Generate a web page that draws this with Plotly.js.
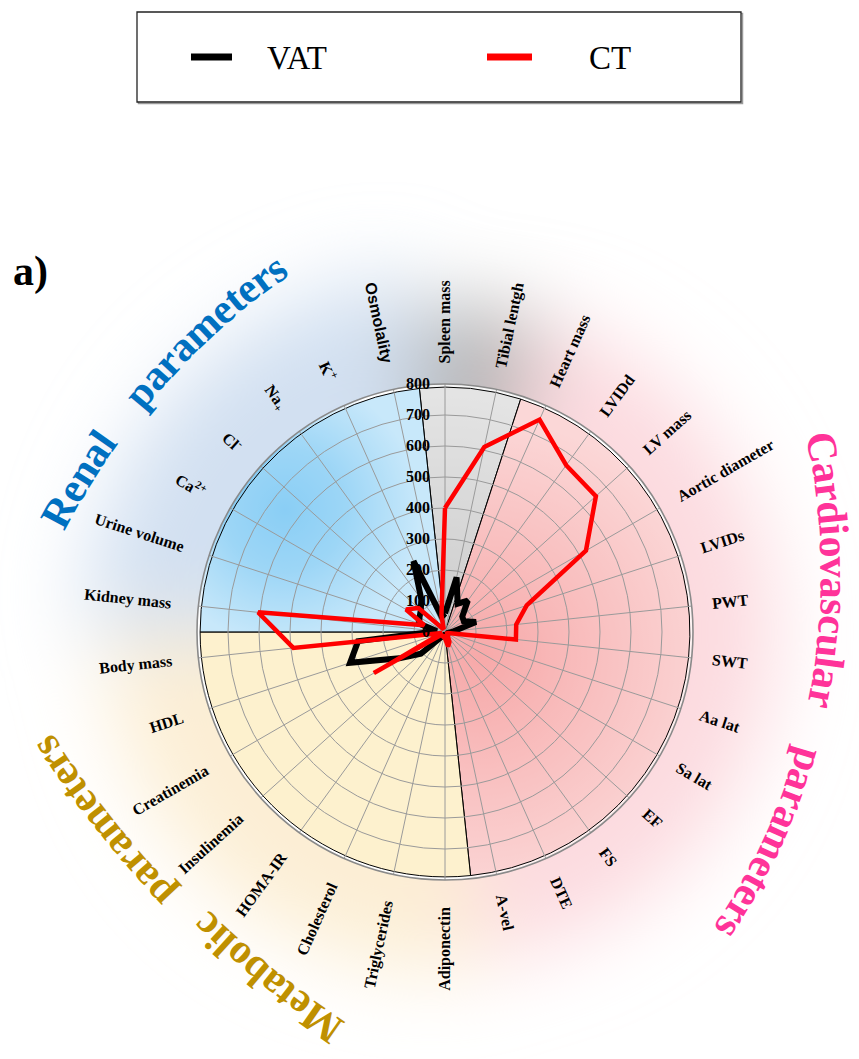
<!DOCTYPE html>
<html>
<head>
<meta charset="utf-8">
<script src="https://cdn.plot.ly/plotly-3.0.1.min.js"></script>
<style>
  html, body { margin: 0; padding: 0; background: #fff; }
  #wrap { position: relative; width: 859px; height: 1059px; overflow: hidden; }
  #glow { position: absolute; left: 0; top: 0; }
  #chart { position: absolute; left: 0; top: 0; width: 859px; height: 1059px; }
</style>
</head>
<body>
<div id="wrap">
  <svg id="glow" width="859" height="1059" xmlns="http://www.w3.org/2000/svg"></svg>
  <div id="chart"></div>
</div>
<script>
// ---- data -------------------------------------------------------------
const categories = [
  'Spleen mass', 'Tibial lentgh', 'Heart mass', 'LVIDd', 'LV mass', 'Aortic diameter',
  'LVIDs', 'PWT', 'SWT', 'Aa lat', 'Sa lat', 'EF', 'FS', 'DTE', 'A-vel',
  'Adiponectin', 'Triglycerides', 'Cholesterol', 'HOMA-IR', 'Insulinemia', 'Creatinemia',
  'HDL', 'Body mass', 'Kidney mass', 'Urine volume', 'Ca2+', 'Cl-', 'Na+', 'K+', 'Osmolality'
];
const labelText = [
  'Spleen mass', 'Tibial lentgh', 'Heart mass', 'LVIDd', 'LV mass', 'Aortic diameter',
  'LVIDs', 'PWT', 'SWT', 'Aa lat', 'Sa lat', 'EF', 'FS', 'DTE', 'A-vel',
  'Adiponectin', 'Triglycerides', 'Cholesterol', 'HOMA-IR', 'Insulinemia', 'Creatinemia',
  'HDL', 'Body mass', 'Kidney mass', 'Urine volume', 'Ca<sup>2+</sup>', 'Cl<sup>-</sup>',
  'Na<sub>+</sub>', 'K<sup>+</sup>', 'Osmolality'
];
const vat = [60, 180, 100, 125, 75, 70, 105, 30, 15, 10, 10, 10, 10, 10, 10,
             10, 10, 15, 20, 105, 170, 322, 282, 27, 88, 95, 105, 130, 250, 50];
const ct  = [400, 610, 750, 665, 655, 525, 277, 231, 230, 10, 8, 10, 15, 35, 48,
             20, 10, 15, 20, 10, 265, 10, 492, 606, 70, 145, 116, 15, 10, 55];
const seriesNames = ['VAT', 'CT'];
const radialTicks = [0, 100, 200, 300, 400, 500, 600, 700, 800];

// parameter groups: first category of each group and how many categories it spans
const groupStart = ['Spleen mass', 'Heart mass', 'Adiponectin', 'Kidney mass'];
const groupSpan  = [2, 13, 8, 7];

// ---- geometry & styling -----------------------------------------------
const W = 859, H = 1059;
const CX = 445, CY = 632, RAD = 248;        // pixel centre / radius of the polar area
const RMAX = 800, SECTOR_R = 790;
const N = categories.length, STEP = 360 / N;
const px = x => x / W, py = y => 1 - y / H;
const rad = d => d * Math.PI / 180;
const onCircle = (cx, cy, r, a) => [cx + r * Math.sin(rad(a)), cy - r * Math.cos(rad(a))];

const sectorFill = ['rgba(217,217,217,0.6)', 'rgba(248,188,188,0.6)',
                    'rgba(252,232,173,0.6)', 'rgba(163,217,247,0.6)'];
const haloColor  = ['rgb(178,178,178)', 'rgb(252,218,223)', 'rgb(252,238,212)', 'rgb(210,224,241)'];
const haloRadius = [325, 330, 340, 360];

function sectorAngles(g) {
  const a0 = (categories.indexOf(groupStart[g]) - 0.5) * STEP;
  return [a0, a0 + groupSpan[g] * STEP];
}
function wedge(a0, a1, r) {
  const [x0, y0] = onCircle(CX, CY, r, a0), [x1, y1] = onCircle(CX, CY, r, a1);
  const large = (a1 - a0) > 180 ? 1 : 0;
  return `M${CX},${CY}L${x0.toFixed(2)},${y0.toFixed(2)}A${r},${r} 0 ${large} 1 ${x1.toFixed(2)},${y1.toFixed(2)}Z`;
}

// ---- soft coloured glow behind the chart --------------------------------
(function drawGlow() {
  let defs = '<filter id="soft" x="-60%" y="-60%" width="220%" height="220%">' +
             '<feGaussianBlur stdDeviation="42"/></filter>';
  let halo = '<g filter="url(#soft)">';
  groupStart.forEach((_, g) => {
    const [a0, a1] = sectorAngles(g);
    halo += `<path d="${wedge(a0, a1, haloRadius[g])}" fill="${haloColor[g]}"/>`;
    defs += `<clipPath id="clip${g}"><path d="${wedge(a0, a1, RAD)}"/></clipPath>`;
  });
  halo += '</g>';
  defs += '<radialGradient id="gGray"><stop offset="0" stop-color="rgb(195,195,195)" stop-opacity="1"/>' +
          '<stop offset="1" stop-color="rgb(195,195,195)" stop-opacity="0"/></radialGradient>' +
          '<radialGradient id="gRed"><stop offset="0" stop-color="rgb(244,140,140)" stop-opacity="1"/>' +
          '<stop offset="1" stop-color="rgb(244,140,140)" stop-opacity="0"/></radialGradient>' +
          '<radialGradient id="gBlue"><stop offset="0" stop-color="rgb(100,190,242)" stop-opacity="1"/>' +
          '<stop offset="0.45" stop-color="rgb(100,190,242)" stop-opacity="0.7"/>' +
          '<stop offset="1" stop-color="rgb(100,190,242)" stop-opacity="0"/></radialGradient>';
  const inner =
    `<circle cx="${CX}" cy="${CY}" r="${RAD}" fill="#fff"/>` +
    `<g clip-path="url(#clip0)"><circle cx="${CX}" cy="${CY - 40}" r="240" fill="url(#gGray)"/></g>` +
    `<g clip-path="url(#clip1)"><circle cx="${CX + 35}" cy="${CY + 25}" r="240" fill="url(#gRed)"/></g>` +
    `<g clip-path="url(#clip3)"><circle cx="${CX - 160}" cy="${CY - 122}" r="135" fill="url(#gBlue)"/></g>`;
  document.getElementById('glow').innerHTML = `<defs>${defs}</defs>${halo}${inner}`;
})();

// ---- annotations: category labels, group titles, panel tag, legend ------
const measure = document.createElement('canvas').getContext('2d');
function textWidth(str, font) {
  measure.font = font;
  return measure.measureText(str.replace(/<[^>]+>/g, '')).width;
}
const annotations = [];

categories.forEach((c, i) => {
  const th = i * STEP;
  const outward = th < 180;
  const family = c === 'Osmolality' ? 'Liberation Sans' : 'Liberation Serif';
  const size = 16;
  const w = textWidth(labelText[i], `bold ${size}px "${family}"`);
  const r = (outward ? 269 : 275) + w / 2;
  const [x, y] = onCircle(CX, CY, r, th);
  annotations.push({
    x: px(x), y: py(y), xref: 'paper', yref: 'paper', showarrow: false,
    text: labelText[i], textangle: outward ? th - 90 : th - 270,
    xanchor: 'center', yanchor: 'middle',
    font: { family: family, size: size, color: '#000', weight: 'bold' }
  });
});

// curved group titles, one word per arc segment
const titleWords = [
  { text: 'Renal',          color: '#0070c0', cx: 691, cy: 853, r: 718,  start: 297.2 },
  { text: 'parameters',     color: '#0070c0', cx: 691, cy: 853, r: 718,  start: 308.9 },
  { text: 'Cardiovascular', color: '#ff3399', cx: 191, cy: 575, r: 644,  start: 77.2 },
  { text: 'parameters',     color: '#ff3399', cx: 191, cy: 575, r: 644,  start: 105.7 },
  { text: 'Metabolic',      color: '#bf9000', cx: 899, cy: 201, r: 1004, start: 214.0 },
  { text: 'parameters',     color: '#bf9000', cx: 899, cy: 201, r: 1014, start: 226.3 }
];
const TITLE_SIZE = 42;
titleWords.forEach(wd => {
  let s = 0;
  for (const ch of wd.text) {
    const w = textWidth(ch, `bold ${TITLE_SIZE}px "Liberation Serif"`);
    const phi = wd.start + (s + w / 2) / wd.r * 180 / Math.PI;
    s += w;
    const [x, y] = onCircle(wd.cx, wd.cy, wd.r, phi);
    let ang = phi % 360; if (ang > 180) ang -= 360;
    annotations.push({
      x: px(x), y: py(y), xref: 'paper', yref: 'paper', showarrow: false,
      text: ch, textangle: ang, xanchor: 'center', yanchor: 'middle', borderpad: 0,
      font: { family: 'Liberation Serif', size: TITLE_SIZE, color: wd.color, weight: 'bold' }
    });
  }
});

annotations.push({
  x: px(30), y: py(271), xref: 'paper', yref: 'paper', showarrow: false,
  text: 'a)', xanchor: 'center', yanchor: 'middle',
  font: { family: 'Liberation Serif', size: 42, color: '#000', weight: 'bold' }
});

// legend box
const legendColors = ['#000000', '#ff0000'];
const legendLineX = [[191, 232], [487, 532]];
const legendTextX = [265, 587];
const LEG_Y = 57;
seriesNames.forEach((nm, k) => {
  annotations.push({
    x: px(legendTextX[k]), y: py(LEG_Y + 1), xref: 'paper', yref: 'paper', showarrow: false,
    text: nm, xanchor: 'left', yanchor: 'middle',
    font: { family: 'Liberation Serif', size: 33, color: '#000' }
  });
});
const shapes = [
  { type: 'rect', xref: 'paper', yref: 'paper', x0: px(138.5), x1: px(742.5), y0: py(13.5), y1: py(103.5),
    line: { color: '#9a9a9a', width: 1.5 } },
  { type: 'rect', xref: 'paper', yref: 'paper', x0: px(137), x1: px(741), y0: py(12), y1: py(102),
    line: { color: '#222', width: 1.3 }, fillcolor: '#fff' }
];
seriesNames.forEach((nm, k) => {
  shapes.push({ type: 'line', xref: 'paper', yref: 'paper',
    x0: px(legendLineX[k][0]), x1: px(legendLineX[k][1]), y0: py(LEG_Y), y1: py(LEG_Y),
    line: { color: legendColors[k], width: 7 } });
});

// ---- traces -------------------------------------------------------------
const closed = arr => arr.concat([arr[0]]);
const traces = [
  { // parameter-group sectors
    type: 'barpolar', subplot: 'polar',
    theta: groupStart, r: groupStart.map(() => SECTOR_R),
    width: groupSpan, offset: -0.5,
    marker: { color: sectorFill, line: { color: '#000', width: 1 } },
    hoverinfo: 'skip', showlegend: false
  },
  { // keeps every category on the sector subplot's angular axis
    type: 'scatterpolar', subplot: 'polar', mode: 'lines',
    theta: categories, r: categories.map(() => 0),
    line: { color: 'rgba(0,0,0,0)', width: 0 }, hoverinfo: 'skip', showlegend: false
  },
  {
    type: 'scatterpolar', subplot: 'polar2', mode: 'lines', name: seriesNames[0],
    theta: closed(categories), r: closed(vat),
    line: { color: legendColors[0], width: 6 }, hoverinfo: 'skip', showlegend: false
  },
  {
    type: 'scatterpolar', subplot: 'polar2', mode: 'lines', name: seriesNames[1],
    theta: closed(categories), r: closed(ct),
    line: { color: legendColors[1], width: 4.5 }, hoverinfo: 'skip', showlegend: false
  }
];

const domain = { x: [px(CX - RAD), px(CX + RAD)], y: [py(CY + RAD), py(CY - RAD)] };
const angularBase = {
  type: 'category', categoryorder: 'array', categoryarray: categories,
  rotation: 90, direction: 'clockwise', showticklabels: false, ticks: ''
};
const layout = {
  width: W, height: H,
  margin: { l: 0, r: 0, t: 0, b: 0, pad: 0 },
  paper_bgcolor: 'rgba(0,0,0,0)', plot_bgcolor: 'rgba(0,0,0,0)',
  showlegend: false, hovermode: false, dragmode: false,
  polar: {
    domain: domain, bgcolor: 'rgba(0,0,0,0)',
    angularaxis: Object.assign({}, angularBase, { showgrid: false, showline: false }),
    radialaxis: { range: [0, RMAX], visible: false }
  },
  polar2: {
    domain: domain, bgcolor: 'rgba(0,0,0,0)',
    angularaxis: Object.assign({}, angularBase, {
      showgrid: true, gridcolor: '#9a9a9a', gridwidth: 1,
      showline: true, linecolor: '#8a8a8a', linewidth: 1.6
    }),
    radialaxis: {
      range: [0, RMAX], angle: 90, side: 'counterclockwise', tickangle: 90,
      tickmode: 'array', tickvals: radialTicks, ticktext: radialTicks.map(String),
      showline: false, showgrid: true, gridcolor: '#9a9a9a', gridwidth: 1,
      ticks: 'outside', ticklen: 9, tickcolor: 'rgba(0,0,0,0)',
      tickfont: { family: 'Liberation Serif', size: 16, color: '#000', weight: 'bold' },
      layer: 'above traces'
    }
  },
  annotations: annotations,
  shapes: shapes
};

Plotly.newPlot('chart', traces, layout, { staticPlot: true, displayModeBar: false });
</script>
</body>
</html>
